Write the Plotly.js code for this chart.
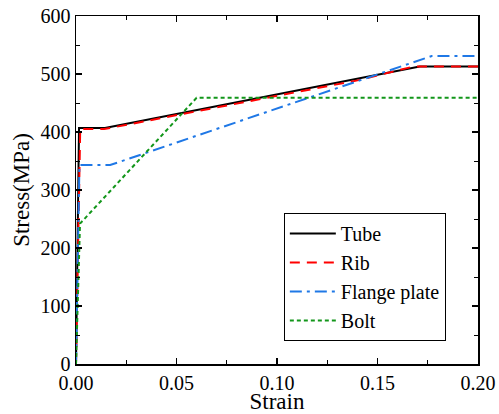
<!DOCTYPE html>
<html><head><meta charset="utf-8">
<script src="https://cdn.plot.ly/plotly-3.0.1.min.js"></script>
<style>body{margin:0;background:#fff}#c{width:499px;height:414px}</style>
</head><body><div id="c"></div>
<script>
const tubeX = [0, 0.0015, 0.0144, 0.171, 0.2];
const tubeY = [0, 407, 407, 513, 513];
const ribX = [0, 0.0021, 0.014, 0.06, 0.1, 0.14, 0.168, 0.2];
const ribY = [0, 405, 405, 436, 462, 489, 513, 513];
const flangeX = [0, 0.0017, 0.017, 0.177, 0.2];
const flangeY = [0, 343, 343, 531, 531];
const boltX = [0, 0.002, 0.06, 0.2];
const boltY = [0, 242, 459, 459];
const names = ["Tube", "Rib", "Flange plate", "Bolt"];

const traces = [
  {x: tubeX, y: tubeY, name: names[0], mode: 'lines', line: {color: '#000000', width: 2}},
  {x: ribX, y: ribY, name: names[1], mode: 'lines', line: {color: '#ff0000', width: 2, dash: '10px,7px'}},
  {x: flangeX, y: flangeY, name: names[2], mode: 'lines', line: {color: '#1f78e6', width: 2, dash: '12px,5px,3px,5px'}},
  {x: boltX, y: boltY, name: names[3], mode: 'lines', line: {color: '#12961a', width: 2, dash: '4px,3px'}}
];
const FAM = 'Liberation Serif, Times New Roman, Times, serif';
const axisCommon = {
  showgrid: false, zeroline: false, showline: true, linecolor: '#000', linewidth: 1.5,
  mirror: 'ticks', ticks: 'inside', ticklen: 6, tickwidth: 1.2, tickcolor: '#000',
  tickfont: {family: FAM, size: 20, color: '#000'}
};
const layout = {
  width: 499, height: 414,
  margin: {l: 76, r: 21, t: 16, b: 50},
  paper_bgcolor: '#fff', plot_bgcolor: '#fff',
  showlegend: true,
  font: {family: FAM, color: '#000'},
  xaxis: Object.assign({}, axisCommon, {
    range: [0, 0.2], dtick: 0.05, tickformat: '.2f',
    minor: {dtick: 0.025, ticks: 'inside', ticklen: 4, tickcolor: '#000', tickwidth: 1},
    title: {text: 'Strain', font: {family: FAM, size: 23, color: '#000'}, standoff: 0}
  }),
  yaxis: Object.assign({}, axisCommon, {
    range: [0, 600], dtick: 100,
    minor: {dtick: 50, ticks: 'inside', ticklen: 4, tickcolor: '#000', tickwidth: 1},
    title: {text: 'Stress(MPa)', font: {family: FAM, size: 23, color: '#000'}, standoff: 4}
  }),
  legend: {
    x: 0.517, y: 0.434, xanchor: 'left', yanchor: 'top',
    bgcolor: '#fff', bordercolor: '#000', borderwidth: 1,
    font: {family: FAM, size: 20, color: '#000'},
    itemwidth: 46,
    tracegroupgap: 0
  }
};
Plotly.newPlot('c', traces, layout, {displayModeBar: false, staticPlot: true});
</script>
</body></html>
